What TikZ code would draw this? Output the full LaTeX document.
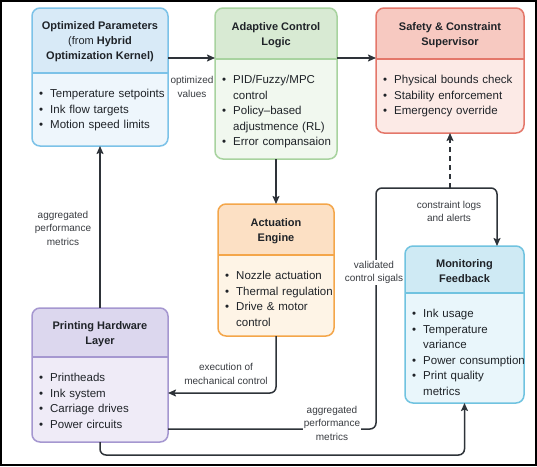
\documentclass[tikz,border=0pt]{standalone}
\usepackage{fontspec}
\setmainfont{Liberation Sans}
\usetikzlibrary{arrows.meta}
\definecolor{c1body}{HTML}{EEF6FC}\definecolor{c1head}{HTML}{D8EAF7}\definecolor{c1line}{HTML}{7CC2E8}
\definecolor{c2body}{HTML}{F1F8EF}\definecolor{c2head}{HTML}{D8EAD3}\definecolor{c2line}{HTML}{A8D39F}
\definecolor{c3body}{HTML}{FCEAE6}\definecolor{c3head}{HTML}{F7C9C1}\definecolor{c3line}{HTML}{E4776A}
\definecolor{c4body}{HTML}{FEF4E6}\definecolor{c4head}{HTML}{FCE0C4}\definecolor{c4line}{HTML}{F4A64A}
\definecolor{c5body}{HTML}{E9F6FB}\definecolor{c5head}{HTML}{CFEAF4}\definecolor{c5line}{HTML}{70C3E0}
\definecolor{c6body}{HTML}{EFEBF7}\definecolor{c6head}{HTML}{DCD7EE}\definecolor{c6line}{HTML}{A597D0}
\definecolor{ink}{HTML}{1F2328}
\definecolor{arrink}{HTML}{2E3339}
\definecolor{labgray}{HTML}{3A3D42}
\newcommand\bi[1]{\par\noindent\hangindent=11pt\hangafter=1\makebox[11pt][l]{\textbullet}#1}
\tikzset{
  titletext/.style={font=\bfseries\fontsize{11}{15}\selectfont, align=center, text=ink, inner sep=0pt},
  bodytext/.style={font=\fontsize{11.5}{15.5}\selectfont, text width=150pt, text=ink, inner sep=0pt},
  lab/.style={font=\fontsize{10}{13.5}\selectfont, align=center, text=labgray, fill=white, inner sep=1pt},
  arr/.style={draw=arrink, line width=1.5pt, -{Stealth[length=8pt,width=7pt,inset=1.5pt]}},
}
\newcommand\panel[9]{%
  \pgfmathsetmacro\pw{#4-#2}\pgfmathsetmacro\ph{#5-#3}%
  \node[inner sep=0pt, outer sep=0pt, minimum width=\pw pt, minimum height=\ph pt,
        anchor=north west, fill=#7body, rounded corners=8pt] (#1) at (#2,#3) {};
  \begin{scope}
    \clip[rounded corners=8pt] (#2,#3) rectangle (#4,#5);
    \fill[#7head] (#2,#3) rectangle (#4,#6);
  \end{scope}
  \draw[#7line, line width=1.3pt] (#2,#6) -- (#4,#6);
  \draw[#7line, line width=1.5pt, rounded corners=8pt] (#2,#3) rectangle (#4,#5);
  \node[titletext] (#1t) at ({(#2+#4)/2},{(#3+#6)/2+1.5}) {#8};
  \node[bodytext, anchor=north west] (#1b) at ({#2+7},{#6+9}) {\raggedright #9\par};
}
\begin{document}
\begin{tikzpicture}[x=1pt, y=-1pt]
\useasboundingbox (0,0) rectangle (537,466);
\fill[white] (0,0) rectangle (537,466);
\draw[black, line width=1.6pt] (0.8,0.8) rectangle (536.2,465.2);

\panel{p1}{32}{8}{168}{146}{73}{c1}{Optimized Parameters\\{\mdseries(from} Hybrid\\Optimization Kernel)}%
  {\bi{Temperature setpoints}\bi{Ink flow targets}\bi{Motion speed limits}}
\panel{p2}{215}{8}{337}{159}{59}{c2}{Adaptive Control\\Logic}%
  {\bi{PID/Fuzzy/MPC\newline control}\bi{Policy–based\newline adjustmence (RL)}\bi{Error compansaion}}
\panel{p3}{376}{8}{524}{133}{59}{c3}{Safety \& Constraint\\Supervisor}%
  {\bi{Physical bounds check}\bi{Stability enforcement}\bi{Emergency override}}
\panel{p4}{218}{204}{334}{336}{255}{c4}{Actuation\\Engine}%
  {\bi{Nozzle actuation}\bi{Thermal regulation}\bi{Drive \& motor\newline control}}
\panel{p5}{405}{246}{524}{403}{293}{c5}{Monitoring\\Feedback}%
  {\bi{Ink usage}\bi{Temperature\newline variance}\bi{Power consumption}\bi{Print quality\newline metrics}}
\panel{p6}{32}{308}{168}{442}{357}{c6}{Printing Hardware\\Layer}%
  {\bi{Printheads}\bi{Ink system}\bi{Carriage drives}\bi{Power circuits}}

\coordinate (r58) at (0,58);
\coordinate (r393) at (0,393);
\coordinate (r429) at (0,429);
\coordinate (r455) at (0,455);
\coordinate (k1) at (376,188);
\coordinate (k2) at (497,188);

\draw[arr] (p1.east |- r58) -- (p2.west |- r58);
\draw[arr] (p2.east |- r58) -- (p3.west |- r58);
\draw[arr] (p2.south) -- (p4.north);
\draw[arr] (p6.north) -- (p1.south);
\draw[arr, rounded corners=6pt] (p4.south) |- (p6.east |- r393);
\draw[arr, rounded corners=6pt] (p6.east |- r429) -| (k1) -- (k2) -- (p5.north -| k2);
\draw[arr, dashed, dash pattern=on 5pt off 4pt] (p3.south |- k2) -- (p3.south);
\draw[arr, rounded corners=6pt] (p6.south) -- (p6.south |- r455) -| (p5.south);

\node[lab] (l1) at (192,87) {optimized\\values};
\node[lab] (l2) at (63,228) {aggregated\\performance\\metrics};
\node[lab] (l3) at (226,374) {execution of\\mechanical control};
\node[lab] (l4) at (332,423) {aggregated\\performance\\metrics};
\node[lab] (l5) at (374,272.5) {validated\\control sigals};
\node[lab] (l6) at (449,211.5) {constraint logs\\and alerts};
\end{tikzpicture}
\end{document}
